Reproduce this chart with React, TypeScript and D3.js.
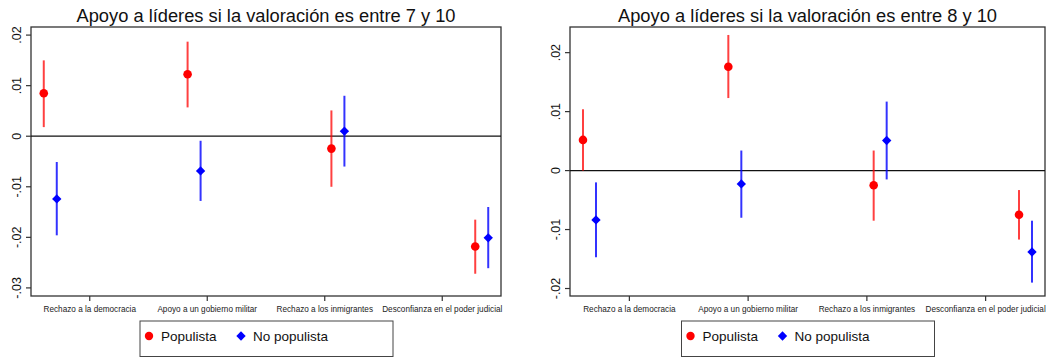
import React from 'react'
import * as d3 from 'd3'

const categories = [
  'Rechazo a la democracia',
  'Apoyo a un gobierno militar',
  'Rechazo a los inmigrantes',
  'Desconfianza en el poder judicial',
]
const seriesNames = ['Populista', 'No populista']
const seriesColors = ['#ff0000', '#0000ff']

// panel 1: valoración 7-10
const titleA = 'Apoyo a líderes si la valoración es entre 7 y 10'
const popA = [0.0085, 0.01225, -0.00245, -0.0218]
const popALo = [0.0018, 0.0057, -0.01, -0.0272]
const popAHi = [0.015, 0.0187, 0.0051, -0.0165]
const noPopA = [-0.0124, -0.00686, 0.001, -0.0201]
const noPopALo = [-0.0196, -0.0128, -0.006, -0.0261]
const noPopAHi = [-0.0051, -0.0009, 0.008, -0.014]
const ticksA = [0.02, 0.01, 0, -0.01, -0.02, -0.03]
const tickLabelsA = ['.02', '.01', '0', '-.01', '-.02', '-.03']
const domainA = [-0.0316, 0.0216]

// panel 2: valoración 8-10
const titleB = 'Apoyo a líderes si la valoración es entre 8 y 10'
const popB = [0.0052, 0.0176, -0.0025, -0.0075]
const popBLo = [0.0, 0.0123, -0.0085, -0.0117]
const popBHi = [0.0104, 0.023, 0.0034, -0.0033]
const noPopB = [-0.00837, -0.00226, 0.0051, -0.0138]
const noPopBLo = [-0.0147, -0.008, -0.0015, -0.019]
const noPopBHi = [-0.002, 0.0034, 0.0117, -0.0085]
const ticksB = [0.02, 0.01, 0, -0.01, -0.02]
const tickLabelsB = ['.02', '.01', '0', '-.01', '-.02']
const domainB = [-0.02127, 0.02435]

const font = 'Liberation Sans, Arial, sans-serif'

function Panel({ left, title, series, ticks, tickLabels, domain }) {
  const top = 27
  const bottom = 296
  const width = left < 100 ? 470 : 475
  const right = left + width

  const y = d3.scaleLinear().domain(domain).range([bottom, top])
  // category axis ticks
  const xTick = d3.scaleLinear().domain([0.5, categories.length + 0.5]).range([left, right])
  // marker positions (coefplot spreads groups a bit wider than the ticks)
  const xPt = d3.scalePoint().domain(categories).range([left, right]).padding(0.134)
  const offset = d3.scalePoint().domain(seriesNames).range([-6.5, 6.5])
  const cx = (left + right) / 2
  const diamond = d3.symbol().type(d3.symbolDiamond2).size(56)()

  return (
    <g fontFamily={font}>
      <text x={cx} y={21.5} textAnchor="middle" fontSize={18.3} fill="#111">
        {title}
      </text>
      <rect x={left} y={top} width={width} height={bottom - top} fill="none" stroke="#333" strokeWidth={1.3} />
      <line x1={left} x2={right} y1={y(0)} y2={y(0)} stroke="#111" strokeWidth={1.3} />
      {ticks.map((t, i) => (
        <g key={t} transform={`translate(${left},${y(t)})`}>
          <line x1={-5} x2={0} stroke="#333" strokeWidth={1.2} />
          <text transform="translate(-10,0) rotate(-90)" textAnchor="middle" fontSize={12.5} fill="#111">
            {tickLabels[i]}
          </text>
        </g>
      ))}
      {categories.map((c, i) => (
        <g key={c} transform={`translate(${xTick(i + 1)},${bottom})`}>
          <line y1={0} y2={5} stroke="#333" strokeWidth={1.2} />
          <text y={15.7} textAnchor="middle" fontSize={8.2} fill="#222">
            {c}
          </text>
        </g>
      ))}
      {series.map((s, si) =>
        categories.map((c, i) => {
          const x = xPt(c) + offset(s.name)
          return (
            <g key={s.name + c}>
              <line
                x1={x}
                x2={x}
                y1={y(s.lo[i])}
                y2={y(s.hi[i])}
                stroke={seriesColors[si]}
                strokeOpacity={si === 0 ? 0.75 : 0.8}
                strokeWidth={2}
              />
              {si === 0 ? (
                <circle cx={x} cy={y(s.val[i])} r={4.3} fill={seriesColors[si]} />
              ) : (
                <path d={diamond} transform={`translate(${x},${y(s.val[i])})`} fill={seriesColors[si]} />
              )}
            </g>
          )
        })
      )}
      <g transform={`translate(${cx - 126},321)`}>
        <rect width={253} height={35.5} fill="none" stroke="#444" strokeWidth={1} />
        <circle cx={9} cy={15} r={4.2} fill={seriesColors[0]} />
        <text x={21} y={19.8} fontSize={13.5} fill="#111">
          {seriesNames[0]}
        </text>
        <path d={diamond} transform="translate(101,15)" fill={seriesColors[1]} />
        <text x={113} y={19.8} fontSize={13.5} fill="#111">
          {seriesNames[1]}
        </text>
      </g>
    </g>
  )
}

export default function App() {
  const seriesA = [
    { name: seriesNames[0], val: popA, lo: popALo, hi: popAHi },
    { name: seriesNames[1], val: noPopA, lo: noPopALo, hi: noPopAHi },
  ]
  const seriesB = [
    { name: seriesNames[0], val: popB, lo: popBLo, hi: popBHi },
    { name: seriesNames[1], val: noPopB, lo: noPopBLo, hi: noPopBHi },
  ]
  return (
    <svg width={1049} height={358} style={{ position: 'absolute', left: 0, top: 0, background: '#fff' }}>
      <rect width={1049} height={358} fill="#fff" />
      <Panel left={31} title={titleA} series={seriesA} ticks={ticksA} tickLabels={tickLabelsA} domain={domainA} />
      <Panel left={570} title={titleB} series={seriesB} ticks={ticksB} tickLabels={tickLabelsB} domain={domainB} />
    </svg>
  )
}
